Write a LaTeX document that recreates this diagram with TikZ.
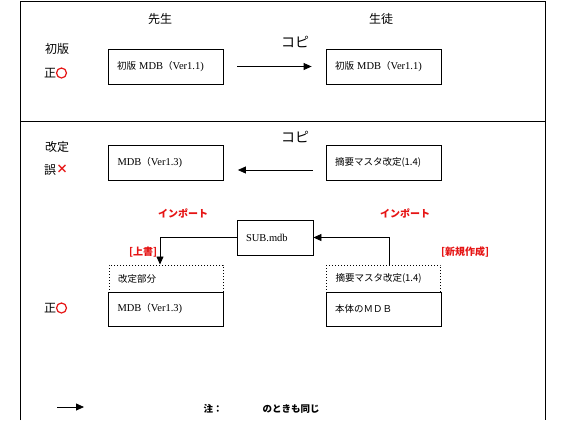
\documentclass[tikz,border=0pt]{standalone}
\usepackage{fontspec}
\setmainfont{Noto Sans CJK JP}
\newfontfamily\latnf{Liberation Serif}
\newcommand{\latn}{\latnf\fontsize{10.5}{11}\selectfont}
\usetikzlibrary{arrows.meta}
\definecolor{myred}{RGB}{230,20,20}
\begin{document}
\begin{tikzpicture}[x=1pt,y=-1pt,
  frame/.style={line width=0.8pt},
  box/.style={draw,line width=0.8pt,minimum height=35pt,text width=97pt,inner xsep=9pt,align=left,font=\fontsize{9.5}{10}\selectfont},
  dotbox/.style={draw,dotted,line width=1pt,minimum height=27pt,text width=96pt,inner xsep=9pt,align=left,font=\fontsize{9.5}{10}\selectfont},
  head/.style={font=\fontsize{12}{13}\selectfont},
  copylbl/.style={font=\fontsize{14}{15}\selectfont},
  redlbl/.style={text=myred,font=\bfseries\fontsize{10}{11}\selectfont},
  arr/.style={line width=0.8pt,-{Triangle[length=8pt,width=7pt]}},
  okmark/.style={draw=myred,line width=1.2pt,circle,minimum size=10pt,inner sep=0pt},
  notelbl/.style={font=\bfseries\fontsize{9.5}{10}\selectfont}
]
\useasboundingbox (0,0) rectangle (565,445);
\fill[white] (0,0) rectangle (565,445);
% frame
\draw[frame] (20,420) -- (20,1) -- (545,1) -- (545,420);
\draw[frame] (20,121) -- (545,121);

% section 1
\node[head] (t1) at (160,19) {先生};
\node[head] (t2) at (381,19) {生徒};
\node[head] (s1) at (57,49) {初版};
\node[head] (s1b) at (50,73) {正};
\node[okmark] (o1) at (61.5,73) {};
\node[copylbl] (c1) at (295,42) {コピ};
\node[box] (b1) at (165.5,66.5) {初版 {\latn MDB}（{\latn Ver1.1)}};
\node[box] (b2) at (383.5,66.5) {初版 {\latn MDB}（{\latn Ver1.1)}};
\draw[arr,shorten <=14pt,shorten >=14pt] (b1) -- (b2);

% section 2
\node[copylbl] (c2) at (295,137) {コピ};
\node[head] (s2) at (57,147) {改定};
\node[head] (s2b) at (50,170) {誤};
\node[text=myred,font=\bfseries\fontsize{12}{13}\selectfont] (x2) at (62,169) {×};
\node[box] (b3) at (166,162.5) {{\latn MDB}（{\latn Ver1.3)}};
\node[box] (b4) at (383.5,162.5) {摘要マスタ改定(1.4)};
\draw[arr,shorten <=13pt,shorten >=14pt] ([yshift=-7.5pt]b4.west) -- ([yshift=-7.5pt]b3.east);

\node[redlbl] (i1) at (183,213) {インポート};
\node[redlbl] (i2) at (405,213) {インポート};
\node[box,text width=58pt,inner xsep=9pt] (sub) at (275,237.5) {{\latn SUB.mdb}};
\node[redlbl] (w1) at (143,252) {[上書]};
\node[redlbl] (w2) at (465,252) {[新規作成]};

\node[dotbox] (dl) at (166,278.5) {改定部分};
\node[box,minimum height=34pt] (ml) at (166,309) {{\latn MDB}（{\latn Ver1.3)}};
\node[dotbox] (dr) at (383.5,278.5) {摘要マスタ改定(1.4)};
\node[box,minimum height=34pt] (mr) at (383.5,309) {本体のＭＤＢ};

\draw[arr] (sub.west) -| ([xshift=-6pt]dl.north);
\draw[arr] ([xshift=6pt]dr.north) |- (sub.east);

\node[head] (s3b) at (50,308) {正};
\node[okmark] (o3) at (61.5,308) {};

% note
\coordinate (n1) at (57,407);
\coordinate (n2) at (84,407);
\draw[arr] (n1) -- (n2);
\node[notelbl] (note1) at (213,409) {注：};
\node[notelbl] (note2) at (291,409) {のときも同じ};
\end{tikzpicture}
\end{document}
